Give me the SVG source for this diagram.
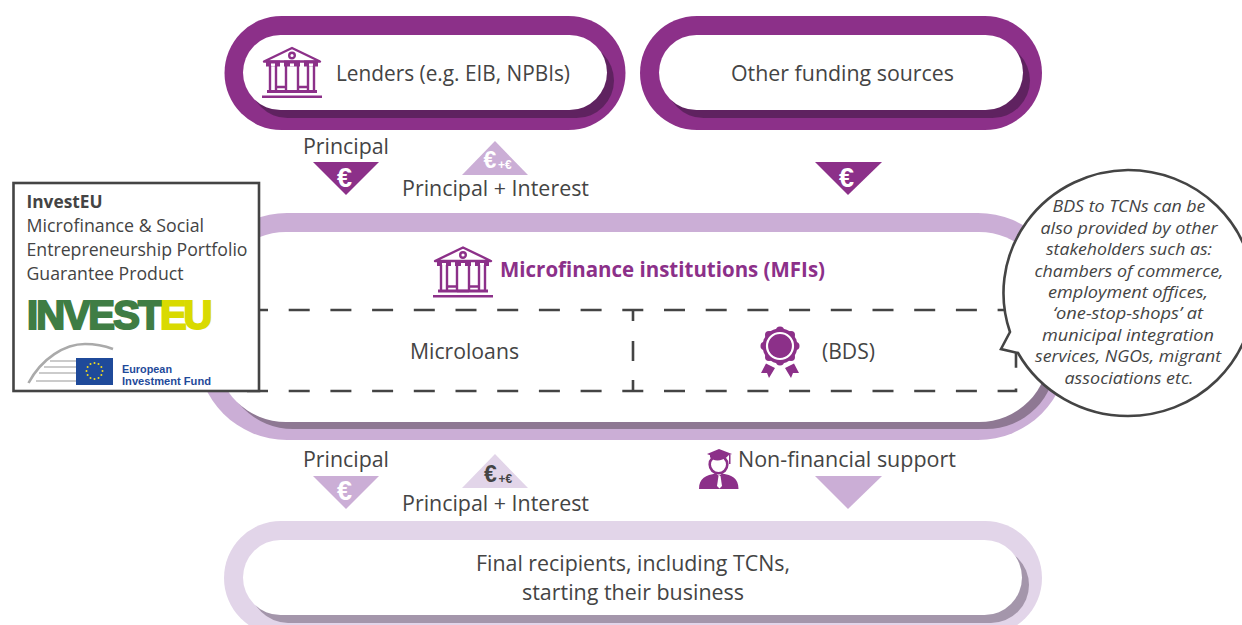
<svg xmlns="http://www.w3.org/2000/svg" width="1242" height="625" viewBox="0 0 1242 625">
<style>
text{font-family:"Open Sans","Noto Sans","Liberation Sans",sans-serif;fill:#444}
.t{font-size:22.5px}
.b{font-size:18px}
.i{font-size:16.5px;font-style:italic;text-anchor:middle}
.lib{font-family:"Liberation Sans",Arial,sans-serif;font-weight:700}
.eur{text-anchor:middle}
.small{font-size:12px}
.logo{font-size:40px;stroke-width:2px}
.eif{font-family:"Liberation Sans",Arial,sans-serif;font-size:10.2px;fill:#1f4a9a}
.dash{fill:none;stroke:#444;stroke-width:2.6}
.ic{fill:none;stroke:#8c3089;stroke-width:2.4}
</style>
<defs>
<g id="temple">
<path class="ic" d="M2 15L30 1.500L58 15Z" stroke-linejoin="round"/>
<circle class="ic" cx="30" cy="9" r="2.800" stroke-width="1.800"/>
<path d="M4 14H18V20H4ZM22 14H38V20H22ZM42 14H56V20H42Z" fill="#8c3089"/>
<path d="M9 17H13V20H9ZM28 17H32V20H28ZM47 17H51V20H47Z" fill="#fff"/>
<path class="ic" d="M8 19V45M14 19V45M24 19V45M36 19V45M46 19V45M52 19V45M14 40.500H24M36 40.500H46M24 45H36"/>
<path d="M5 43.500H55V46.500H5ZM0 49H60V51.500H0Z" fill="#8c3089"/>
</g>
</defs>

<g id="lenders">
<rect x="224.500" y="16" width="401" height="114" rx="57" fill="#8c3089"/>
<rect x="250" y="43" width="364" height="75" rx="37.500" fill="#5f2260"/>
<rect x="243" y="35" width="364" height="75" rx="37.500" fill="#fff"/>
<use href="#temple" x="262" y="46.500"/>
<text class="t" x="336" y="81" textLength="234" lengthAdjust="spacingAndGlyphs">Lenders (e.g. EIB, NPBIs)</text>
</g>

<g id="other-funding">
<rect x="640" y="16" width="402" height="114" rx="57" fill="#8c3089"/>
<rect x="666" y="43" width="364" height="75" rx="37.500" fill="#5f2260"/>
<rect x="659" y="35" width="364" height="75" rx="37.500" fill="#fff"/>
<text class="t" x="731" y="81" textLength="223" lengthAdjust="spacingAndGlyphs">Other funding sources</text>
</g>

<g id="mfi">
<rect x="197" y="213" width="871" height="227" rx="90" fill="#cbaed6"/>
<rect x="223" y="239" width="833" height="190" rx="70" fill="#8e7893"/>
<rect x="216" y="232" width="833" height="190" rx="70" fill="#fff"/>
<use href="#temple" x="433" y="246"/>
<text x="500" y="277" font-size="22" font-weight="700" style="fill:#8c3089" textLength="325" lengthAdjust="spacingAndGlyphs">Microfinance institutions (MFIs)</text>
<path class="dash" d="M247 310H1016" stroke-dasharray="21 20.700"/>
<path class="dash" d="M247 391H1016V350" stroke-dasharray="21 20.700"/>
<path class="dash" d="M633 310V321M633 341V361M633 380V391"/>
<text class="t" x="410" y="359" textLength="109" lengthAdjust="spacingAndGlyphs">Microloans</text>
<text class="t" x="822" y="359" textLength="53" lengthAdjust="spacingAndGlyphs">(BDS)</text>
<g id="medal" fill="#8c3089">
<path d="M766 363.500L775 368L769 378L767 373L761 373ZM794 363.500L785 368L791 378L793 373L799 373Z"/>
<circle cx="780" cy="346" r="17.500"/>
<circle cx="780" cy="330.500" r="4"/><circle cx="791" cy="335" r="4"/><circle cx="795.500" cy="346" r="4"/><circle cx="791" cy="357" r="4"/><circle cx="780" cy="361.500" r="4"/><circle cx="769" cy="357" r="4"/><circle cx="764.500" cy="346" r="4"/><circle cx="769" cy="335" r="4"/>
<circle cx="780" cy="346" r="13" fill="none" stroke="#fff" stroke-width="2.200"/>
</g>
</g>

<g id="final-recipients">
<rect x="224" y="521" width="818" height="114" rx="57" fill="#e2d5e9"/>
<rect x="250" y="547" width="779" height="76" rx="38" fill="#a496ab"/>
<rect x="243" y="540" width="779" height="75" rx="37.500" fill="#fff"/>
<text class="t" x="476" y="571" textLength="314" lengthAdjust="spacingAndGlyphs">Final recipients, including TCNs,</text>
<text class="t" x="522" y="600" textLength="222" lengthAdjust="spacingAndGlyphs">starting their business</text>
</g>

<g id="investeu-box">
<rect x="13.500" y="183" width="245.500" height="208" fill="#fff" stroke="#444" stroke-width="2.600"/>
<text class="b" x="26.500" y="208" font-weight="700" textLength="76" lengthAdjust="spacingAndGlyphs">InvestEU</text>
<text class="b" x="26.500" y="232" textLength="177.500" lengthAdjust="spacingAndGlyphs">Microfinance &amp; Social</text>
<text class="b" x="26.500" y="256" textLength="221" lengthAdjust="spacingAndGlyphs">Entrepreneurship Portfolio</text>
<text class="b" x="26.500" y="280" textLength="157" lengthAdjust="spacingAndGlyphs">Guarantee Product</text>
<text class="lib logo" x="27" y="328.500" letter-spacing="-1.800" style="fill:#3f7d44;stroke:#3f7d44">INVEST</text>
<text class="lib logo" x="160" y="328.500" letter-spacing="-3.300" style="fill:#d9da00;stroke:#d9da00">EU</text>
<path d="M28.500 383C42 358 65 344 85 344C96 344 105 346 113 349" fill="none" stroke="#aaa" stroke-width="2.600"/>
<path d="M50 361H76M44 367H76M39 373H76M36 381H76" stroke="#bbb" stroke-width="1.300"/>
<rect x="76" y="358" width="37" height="27" fill="#1f4a9a"/>
<g fill="#f2dc1f"><circle cx="102.500" cy="371" r="1"/><circle cx="101.400" cy="375" r="1"/><circle cx="98.500" cy="377.900" r="1"/><circle cx="94.500" cy="379" r="1"/><circle cx="90.500" cy="377.900" r="1"/><circle cx="87.600" cy="375" r="1"/><circle cx="86.500" cy="371" r="1"/><circle cx="87.600" cy="367" r="1"/><circle cx="90.500" cy="364.100" r="1"/><circle cx="94.500" cy="363" r="1"/><circle cx="98.500" cy="364.100" r="1"/><circle cx="101.400" cy="367" r="1"/></g>
<text class="eif" x="122" y="373" font-weight="700" textLength="50" lengthAdjust="spacingAndGlyphs">European</text>
<text class="eif" x="122" y="385" font-weight="700" textLength="89" lengthAdjust="spacingAndGlyphs">Investment Fund</text>
</g>

<g id="bubble">
<path d="M1010 332A126 123 0 0 1 1128 170A126 123 0 0 1 1254 293A126 123 0 0 1 1128 416A126 123 0 0 1 1018 353L1001 349Z" fill="#fff" stroke="#444" stroke-width="2.600" stroke-linejoin="miter"/>
<text class="i" x="1129" y="212" textLength="153" lengthAdjust="spacingAndGlyphs">BDS to TCNs can be</text>
<text class="i" x="1129" y="233.500" textLength="177" lengthAdjust="spacingAndGlyphs">also provided by other</text>
<text class="i" x="1129" y="255" textLength="166" lengthAdjust="spacingAndGlyphs">stakeholders such as:</text>
<text class="i" x="1129" y="276.500" textLength="189" lengthAdjust="spacingAndGlyphs">chambers of commerce,</text>
<text class="i" x="1128" y="297.500" textLength="160" lengthAdjust="spacingAndGlyphs">employment offices,</text>
<text class="i" x="1128" y="319" textLength="150" lengthAdjust="spacingAndGlyphs">‘one-stop-shops’ at</text>
<text class="i" x="1128" y="341" textLength="172" lengthAdjust="spacingAndGlyphs">municipal integration</text>
<text class="i" x="1128" y="362" textLength="186" lengthAdjust="spacingAndGlyphs">services, NGOs, migrant</text>
<text class="i" x="1129" y="384" textLength="129" lengthAdjust="spacingAndGlyphs">associations etc.</text>
</g>

<g id="connectors">
<path d="M313 162H379L346 195Z" fill="#8c3089"/>
<text class="lib eur" x="344.500" y="186.500" font-size="27" style="fill:#fff">€</text>
<path d="M462 175H528L495 141Z" fill="#cbaed6"/>
<text class="lib eur" x="490" y="167.500" font-size="23" style="fill:#fff">€</text>
<text class="lib small" x="498" y="168.500" style="fill:#fff">+€</text>
<path d="M815 162H882L848 195Z" fill="#8c3089"/>
<text class="lib eur" x="846.500" y="186.500" font-size="27" style="fill:#fff">€</text>
<path d="M313 476H379L346 509Z" fill="#cbaed6"/>
<text class="lib eur" x="344.500" y="500" font-size="27" style="fill:#fff">€</text>
<path d="M462 488H528L495 454Z" fill="#e2d5e9"/>
<text class="lib eur" x="490.500" y="482" font-size="23">€</text>
<text class="lib small" x="498.500" y="483">+€</text>
<path d="M815 476H882L848 509Z" fill="#cbaed6"/>
</g>

<g id="labels">
<text class="t" x="303" y="154" textLength="86" lengthAdjust="spacingAndGlyphs">Principal</text>
<text class="t" x="402" y="196" textLength="187" lengthAdjust="spacingAndGlyphs">Principal + Interest</text>
<text class="t" x="303" y="467" textLength="86" lengthAdjust="spacingAndGlyphs">Principal</text>
<text class="t" x="402" y="511" textLength="187" lengthAdjust="spacingAndGlyphs">Principal + Interest</text>
<text class="t" x="738" y="467" textLength="218" lengthAdjust="spacingAndGlyphs">Non-financial support</text>
<g id="graduate" fill="#8c3089">
<circle cx="718.500" cy="464.500" r="8.800" fill="none" stroke="#8c3089" stroke-width="2.600"/>
<path d="M707 454L719 449L732 454L719 459Z"/>
<path d="M710 457C712 461 721 462 727 457L729 454L710 454Z"/>
<path d="M729 455H730.500V464H729Z"/>
<path d="M699 489C699 478 706 475 716 473.500L719 476L722 473.500C732 475 738.500 478 738.500 489Z"/>
<path d="M718.500 476H720.500L722 486L719.500 488.500L717 486Z" fill="#fff"/>
</g>
</g>
</svg>
